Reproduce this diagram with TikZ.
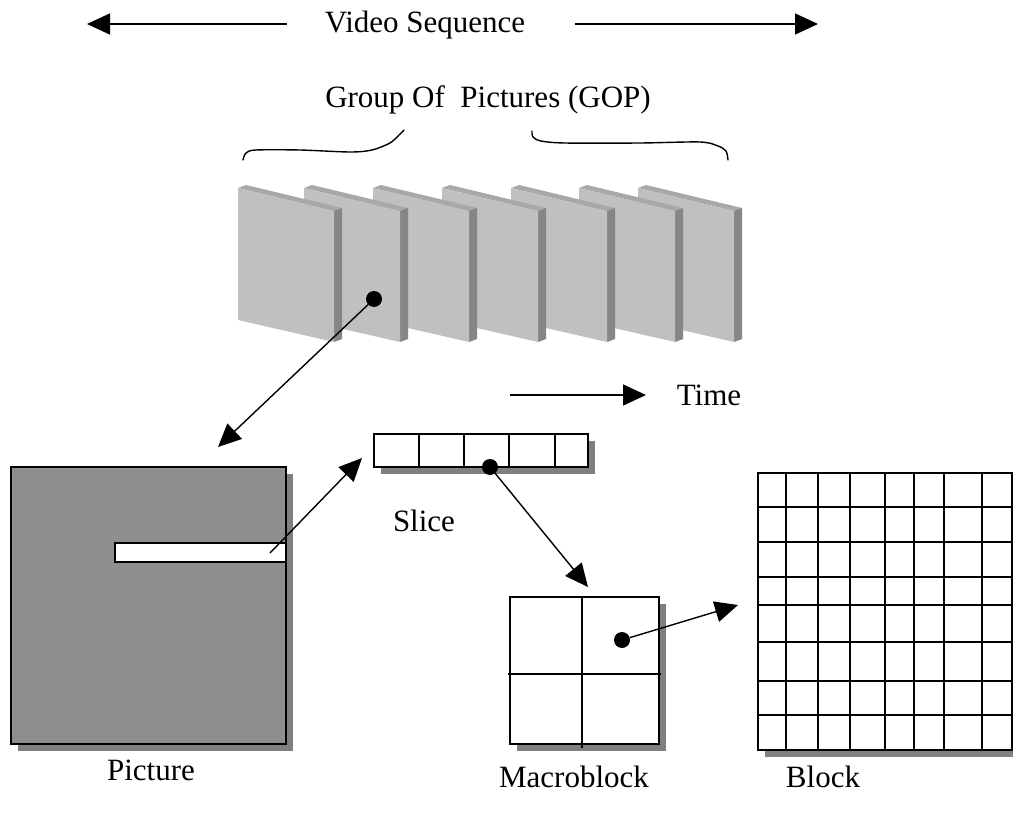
\documentclass[tikz,border=0pt]{standalone}
\usepackage{fontspec}
\setmainfont{Liberation Serif}
\usetikzlibrary{arrows.meta,shadows}

\definecolor{frontgray}{HTML}{C0C0C0}
\definecolor{topgray}{HTML}{A8A8A8}
\definecolor{sidegray}{HTML}{868686}
\definecolor{picgray}{HTML}{8E8E8E}
\definecolor{shadowgray}{HTML}{808080}

\tikzset{
  conn/.style={-{Triangle[length=23pt,width=21pt]}, line width=1.4pt},
  dot/.style={circle, fill=black, inner sep=0pt, minimum size=16pt},
  lbl/.style={font=\fontsize{31}{36}\selectfont, inner sep=0pt},
  boxed/.style={draw, line width=1.6pt, inner sep=0pt, fill=white,
    drop shadow={shadow xshift=7pt, shadow yshift=-7pt, fill=shadowgray, opacity=1}},
  gridline/.style={line width=1.4pt},
  brace/.style={line width=1.4pt, line cap=round},
}

\begin{document}
\begin{tikzpicture}[x=1pt, y=-1pt]
\useasboundingbox (0,0) rectangle (1013,816);

% video sequence
\node[lbl] (vs) at (425,25) {Video Sequence};
\coordinate (vsl) at (287,24);  \coordinate (vsltip) at (87,24);
\coordinate (vsr) at (575,24);  \coordinate (vsrtip) at (818,24);
\draw[conn] (vsl) -- (vsltip);
\draw[conn] (vsr) -- (vsrtip);

% group of pictures
\node[lbl] (gop) at (488,100) {Group Of\ \ Pictures (GOP)};
\draw[brace] plot[smooth] coordinates {(243,160) (246,153) (256,150) (300,150) (350,152) (372,150) (390,143) (399,135) (404,130)};
\draw[brace] plot[smooth] coordinates {(532,131) (533,137) (541,141) (565,143) (640,143) (700,142) (718,146) (726,151) (728,160)};

% frames, back to front
\foreach \fx in {638,579,511,442,373,304,238} {
  \fill[topgray] (\fx,188) -- (\fx+8,185) -- (\fx+104,208) -- (\fx+96,211) -- cycle;
  \fill[sidegray] (\fx+96,211) -- (\fx+104,208) -- (\fx+104,339) -- (\fx+96,342) -- cycle;
  \fill[frontgray] (\fx,188) -- (\fx+96,211) -- (\fx+96,342) -- (\fx,320) -- cycle;
}
\node[dot] (gopdot) at (374,299) {};
\coordinate (pictip) at (218,447);
\draw[conn] (gopdot) -- (pictip);

% time
\coordinate (tstart) at (510,395); \coordinate (ttip) at (646,395);
\draw[conn] (tstart) -- (ttip);
\node[lbl] (time) at (709,395) {Time};

% picture
\node[boxed, fill=picgray, minimum width=275pt, minimum height=277pt] (pic) at (148.5,605.5) {};
\node[draw, fill=white, line width=1.6pt, inner sep=0pt, minimum width=171pt, minimum height=19pt] (strip) at (200.5,552.5) {};
\node[lbl] (piclbl) at (151,770) {Picture};

% slice
\node[boxed, minimum width=214pt, minimum height=33pt] (slice) at (481,450.5) {};
\foreach \sx in {419,464,509,555} \draw[gridline] (\sx,434) -- (\sx,467);
\node[lbl] (slicelbl) at (424,521) {Slice};
\coordinate (stripin) at (270,553); \coordinate (slicetip) at (362,458);
\draw[conn] (stripin) -- (slicetip);
\node[dot] (slicedot) at (490,467) {};

% macroblock
\node[boxed, minimum width=149pt, minimum height=147pt] (mb) at (584.5,670.5) {};
\draw[gridline] (582,597) -- (582,748);
\draw[gridline] (508,674) -- (661,674);
\node[lbl] (mblbl) at (574,777) {Macroblock};
\coordinate (mbtip) at (588,587);
\draw[conn] (slicedot) -- (mbtip);
\node[dot] (mbdot) at (622,640) {};

% block
\node[boxed, minimum width=254pt, minimum height=277pt] (blk) at (885,611.5) {};
\foreach \bx in {786,818,850,885,914,944,982} \draw[gridline] (\bx,473) -- (\bx,750);
\foreach \by in {507,542,577,605,642,681,715} \draw[gridline] (758,\by) -- (1012,\by);
\node[lbl] (blklbl) at (823,777) {Block};
\coordinate (blktip) at (738,605);
\draw[conn] (mbdot) -- (blktip);
\end{tikzpicture}
\end{document}
